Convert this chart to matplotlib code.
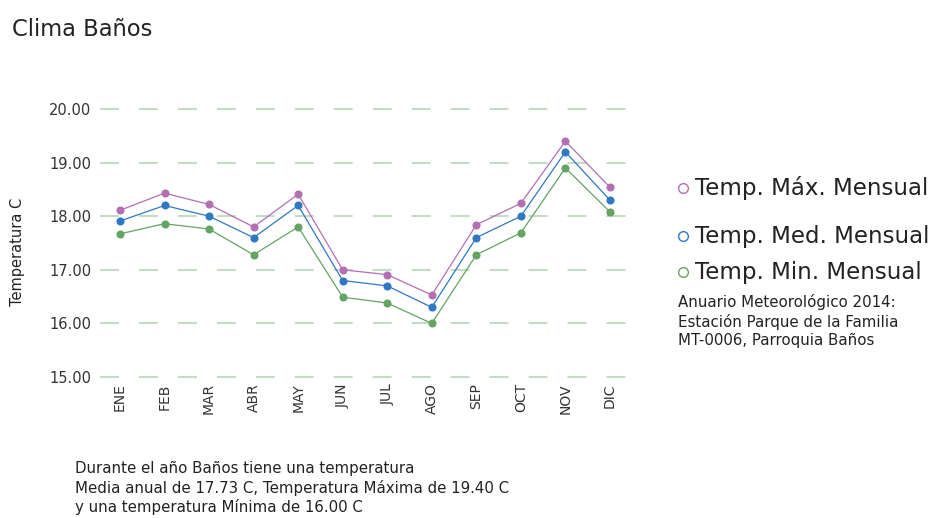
import matplotlib
matplotlib.use('Agg')
import matplotlib.pyplot as plt
from matplotlib.lines import Line2D

# temperaturas mensuales, estación Parque de la Familia
meses = ['ENE', 'FEB', 'MAR', 'ABR', 'MAY', 'JUN', 'JUL', 'AGO', 'SEP', 'OCT', 'NOV', 'DIC']
t_max = [18.11, 18.43, 18.22, 17.80, 18.41, 17.00, 16.91, 16.53, 17.84, 18.24, 19.40, 18.54]
t_med = [17.91, 18.20, 18.00, 17.60, 18.20, 16.80, 16.70, 16.30, 17.60, 18.00, 19.20, 18.30]
t_min = [17.67, 17.86, 17.76, 17.28, 17.80, 16.49, 16.38, 16.00, 17.28, 17.69, 18.90, 18.08]
y_ticks = [15, 16, 17, 18, 19, 20]

series = [('Temp. Máx. Mensual', t_max, '#b46fb4'),
          ('Temp. Med. Mensual', t_med, '#2f78c4'),
          ('Temp. Min. Mensual', t_min, '#62a462')]

txt = '#222222'

fig = plt.figure(figsize=(9.34, 5.18), dpi=100)
ax = fig.add_axes([0.107, 0.2722, 0.5675, 0.5174])

x = list(range(len(meses)))
for y in y_ticks:
    ax.axhline(y, color='#c3ddc3', lw=1.5, dashes=(9.1, 9.6), zorder=1, clip_on=False)

for nombre, vals, col in series:
    ax.plot(x, vals, color=col, lw=0.9, marker='o', ms=4.8, zorder=3, clip_on=False)

ax.set_xlim(-0.45, 11.45)
ax.set_ylim(15, 20)
ax.set_yticks(y_ticks)
ax.set_yticklabels(['%.2f' % v for v in y_ticks], fontsize=10.5, color='#333333')
ax.set_xticks(x)
ax.set_xticklabels(meses, rotation=90, fontsize=10, color='#333333')
ax.tick_params(axis='y', length=0, pad=6)
ax.tick_params(axis='x', length=0, pad=4.5)
for s in ax.spines.values():
    s.set_visible(False)

fig.text(18 / 934, 1 - 252 / 518, 'Temperatura C', rotation=90, fontsize=10.5,
         va='center', ha='center', color=txt)
fig.text(12 / 934, 1 - 29 / 518, 'Clima Baños', fontsize=16.3, va='center', color=txt)

# leyenda a la derecha
ley_y = [188, 236, 272]
for (nombre, vals, col), yy in zip(series, ley_y):
    fy = 1 - yy / 518
    fig.add_artist(Line2D([683 / 934], [fy], marker='o', ms=7, mfc='white', mec=col, mew=1.0,
                          transform=fig.transFigure))
    fig.text(695 / 934, fy, nombre, fontsize=16.5, va='center', ha='left', color=txt)

fig.text(678 / 934, 1 - 321 / 518,
         'Anuario Meteorológico 2014:\nEstación Parque de la Familia\nMT-0006, Parroquia Baños',
         fontsize=10.8, va='center', ha='left', color=txt, linespacing=1.3)

fig.text(75 / 934, 1 - 488 / 518,
         'Durante el año Baños tiene una temperatura\n'
         'Media anual de 17.73 C, Temperatura Máxima de 19.40 C\n'
         'y una temperatura Mínima de 16.00 C',
         fontsize=10.8, va='center', ha='left', color=txt, linespacing=1.25)

fig.savefig('out.png', dpi=100)
